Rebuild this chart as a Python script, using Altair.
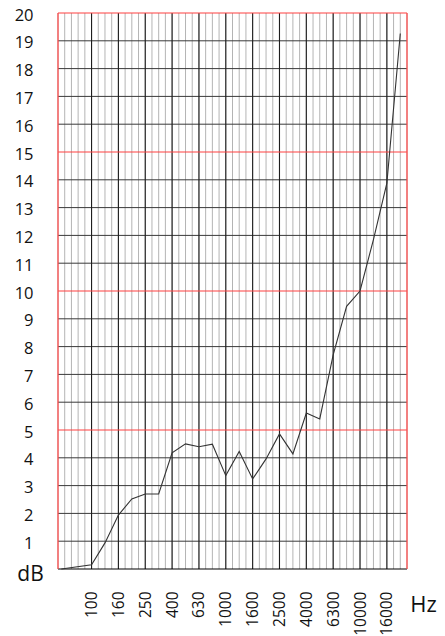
import json
import numpy as np
import pandas as pd
import altair as alt

# 1/3-octave band labels (index = x position)
bands = ["63", "80", "100", "125", "160", "200", "250", "315", "400", "500",
         "630", "800", "1000", "1250", "1600", "2000", "2500", "3150", "4000",
         "5000", "6300", "8000", "10000", "12500", "16000", "20000"]

# curve: band index positions and dB values
curve_pos = [-0.25, 2, 3, 4, 5, 6, 7, 8, 9, 10, 11, 12, 13, 14, 15, 16, 17,
             18, 19, 20, 21, 22, 23, 24, 25]
curve_db = [0.0, 0.15, 0.94, 1.94, 2.52, 2.70, 2.70, 4.18, 4.50, 4.40, 4.49,
            3.36, 4.23, 3.24, 3.96, 4.86, 4.14, 5.61, 5.40, 7.70, 9.45, 10.0,
            11.85, 13.88, 19.26]

label_idx = list(range(2, 25, 2))
y_ticks = list(range(0, 21))

FONT = "Open Sans"
x_scale = alt.Scale(domain=[-0.5, 25.5], nice=False, zero=False)
y_scale = alt.Scale(domain=[0, 20], nice=False, zero=False)

x_axis = alt.Axis(
    values=label_idx,
    labelExpr=f"{json.dumps(bands)}[datum.value]",
    labelAngle=270, labelAlign="right", labelBaseline="middle",
    labelFontSize=15.5, labelPadding=22, labelFont=FONT, labelColor="#111",
    labelOverlap=False, labelFlush=False,
    ticks=False, domain=False, grid=False,
    title="Hz", titleFont=FONT, titleFontSize=22, titleFontWeight="normal",
    titleColor="#111", titleAngle=0, titleX=365, titleY=35,
    titleAlign="center", titleBaseline="middle",
)
y_axis = alt.Axis(
    values=y_ticks,
    labelExpr="datum.value == 0 ? '' : datum.label",
    labelFontSize=16.5, labelPadding=25, labelFont=FONT, labelColor="#111",
    labelOffset=2, labelOverlap=False, labelFlush=False,
    ticks=False, domain=False, grid=False,
    title="dB", titleFont=FONT, titleFontSize=21, titleFontWeight="normal",
    titleColor="#111", titleAngle=0, titleX=-28, titleY=561,
    titleAlign="center", titleBaseline="middle",
)

curve_df = pd.DataFrame({"pos": curve_pos, "db": curve_db})
minor_df = pd.DataFrame({"x": np.arange(-0.5, 25.51, 0.5)})
major_df = pd.DataFrame({"x": label_idx})
hdark_df = pd.DataFrame({"y": [v for v in y_ticks if v % 5 != 0]})
hred_df = pd.DataFrame({"y": [5, 10, 15, 20]})
border_df = pd.DataFrame({"x": [-0.5, 25.5]})
bottom_df = pd.DataFrame({"y": [0]})

minor = alt.Chart(minor_df).mark_rule(color="#b4b4b4", strokeWidth=1).encode(
    x=alt.X("x:Q", scale=x_scale, axis=x_axis))
hdark = alt.Chart(hdark_df).mark_rule(color="#3a3a3a", strokeWidth=1).encode(
    y=alt.Y("y:Q", scale=y_scale, axis=y_axis))
major = alt.Chart(major_df).mark_rule(color="#1e1e1e", strokeWidth=1.1).encode(
    x=alt.X("x:Q", scale=x_scale, axis=x_axis))
hred = alt.Chart(hred_df).mark_rule(color="#ff4040", strokeWidth=1.1).encode(
    y=alt.Y("y:Q", scale=y_scale, axis=y_axis))
border = alt.Chart(border_df).mark_rule(color="#ff5050", strokeWidth=1.3).encode(
    x=alt.X("x:Q", scale=x_scale, axis=x_axis))
bottom = alt.Chart(bottom_df).mark_rule(color="#000000", strokeWidth=1.2).encode(
    y=alt.Y("y:Q", scale=y_scale, axis=y_axis))

curve = alt.Chart(curve_df).mark_line(color="#333333", strokeWidth=1.1).encode(
    x=alt.X("pos:Q", scale=x_scale, axis=x_axis),
    y=alt.Y("db:Q", scale=y_scale, axis=y_axis),
)

chart = alt.layer(minor, hdark, major, hred, bottom, border, curve).properties(
    width=349, height=556,
    autosize=alt.AutoSizeParams(type="none"),
    padding={"left": 50, "top": 5, "right": 30, "bottom": 67},
).configure_view(stroke=None)

chart.save("out.html", embed_options={"renderer": "svg", "actions": False})
